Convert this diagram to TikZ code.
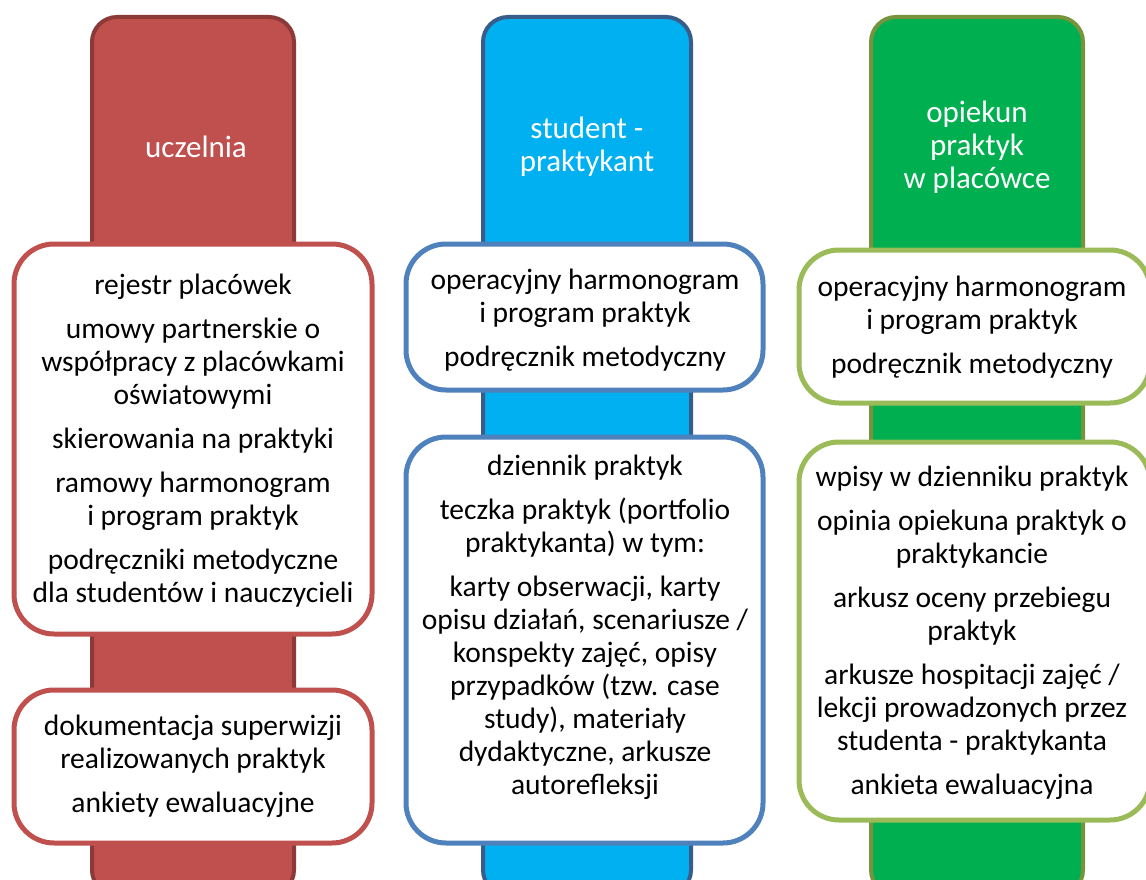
\documentclass[tikz,border=0pt]{standalone}
\usepackage{fontspec}
\setmainfont{Carlito}
\definecolor{redfill}{HTML}{C0504D}
\definecolor{redline}{HTML}{8C3A38}
\definecolor{bluefill}{HTML}{00B0F0}
\definecolor{blueline}{HTML}{385D8A}
\definecolor{bluebox}{HTML}{4F81BD}
\definecolor{greenfill}{HTML}{00B050}
\definecolor{greenline}{HTML}{77933C}
\definecolor{greenbox}{HTML}{9BBB59}
\tikzset{
  column/.style={rounded corners=25pt, line width=4pt},
  colbox/.style={draw, fill=white, rounded corners=40pt, line width=5pt},
  coltext/.style={text=white, align=center, font=\fontsize{31}{33}\selectfont},
  boxtext/.style={text=black, align=center, font=\fontsize{29.5}{33}\selectfont},
}
\begin{document}
\begin{tikzpicture}[x=1pt,y=-1pt]
\useasboundingbox (0,0) rectangle (1146,880);
\clip (0,0) rectangle (1146,880);
% columns
\draw[column, fill=redfill, draw=redline] (92,17) rectangle (294,895);
\draw[column, fill=bluefill, draw=blueline] (483,17) rectangle (691,895);
\draw[column, fill=greenfill, draw=greenline] (871,17) rectangle (1083,895);
\node[coltext] (c1) at (196,147) {uczelnia};
\node[coltext] (c2) at (587,147) {student -\\praktykant};
\node[coltext] (c3) at (977,147) {opiekun\\praktyk\\w placówce};
% boxes column 1
\draw[colbox, draw=redfill] (14,244) rectangle (372,634);
\node[boxtext] (u1) at (193,441) {rejestr placówek\\[11pt]umowy partnerskie o\\współpracy z placówkami\\oświatowymi\\[11pt]skierowania na praktyki\\[11pt]ramowy harmonogram\\i program praktyk\\[11pt]podręczniki metodyczne\\dla studentów i nauczycieli};
\draw[colbox, draw=redfill] (14,690) rectangle (372,843);
\node[boxtext] (u2) at (193,766) {dokumentacja superwizji\\realizowanych praktyk\\[11pt]ankiety ewaluacyjne};
% boxes column 2
\draw[colbox, draw=bluebox] (406,244) rectangle (763,390);
\node[boxtext] (s1) at (585,320) {operacyjny harmonogram\\i program praktyk\\[11pt]podręcznik metodyczny};
\draw[colbox, draw=bluebox] (406,437) rectangle (763,843);
\node[boxtext] (s2) at (585,627) {dziennik praktyk\\[11pt]teczka praktyk (portfolio\\praktykanta) w tym:\\[11pt]karty obserwacji, karty\\opisu działań, scenariusze /\\konspekty zajęć, opisy\\przypadków (tzw. case\\study), materiały\\dydaktyczne, arkusze\\autorefleksji};
% boxes column 3
\draw[colbox, draw=greenbox] (799,250) rectangle (1150,403);
\node[boxtext] (o1) at (972,327) {operacyjny harmonogram\\i program praktyk\\[11pt]podręcznik metodyczny};
\draw[colbox, draw=greenbox] (799,442) rectangle (1150,820);
\node[boxtext] (o2) at (972,633) {wpisy w dzienniku praktyk\\[11pt]opinia opiekuna praktyk o\\praktykancie\\[11pt]arkusz oceny przebiegu\\praktyk\\[11pt]arkusze hospitacji zajęć /\\lekcji prowadzonych przez\\studenta - praktykanta\\[11pt]ankieta ewaluacyjna};
\end{tikzpicture}
\end{document}
